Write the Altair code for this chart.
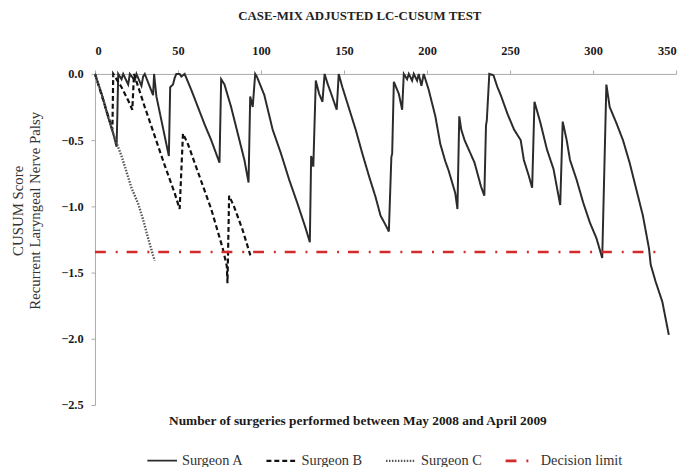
import altair as alt
import pandas as pd

# ---------------- data ----------------
a_x = [0, 4, 8, 11, 13, 13.5, 14, 16, 17, 20, 21, 24, 25, 28, 29, 30, 35, 35.6, 37, 44.5, 45.3, 47, 48, 49, 51, 52, 54,
       58, 62, 66, 70, 75, 76, 78, 82, 86, 90, 92.5, 93.5, 95, 96.5, 97.5, 102, 107, 112, 117, 122, 127, 129.4,
       130.2, 131.5, 133, 135, 137, 138.3, 140, 142, 145.6, 146.8, 149, 153, 157, 161, 165, 169, 172, 175, 177,
       178.5, 179, 180, 183, 185, 186, 188, 189, 191, 192, 194, 195, 196.6, 198, 201, 205, 208, 211, 213, 217,
       218.3, 219.4, 220.6, 222.6, 228.6, 232.5, 234.5, 235.5, 236, 237.5, 240, 242.4, 244.4, 248.4, 252.4, 256.4,
       258.3, 261.3, 263.3, 264.7, 268.3, 272.2, 276.2, 280.2, 281.7, 284.1, 286.1, 290.1, 294, 298, 302, 305.5,
       308, 310, 314, 318, 322, 326, 330, 333.7, 334.7, 337.7, 341.7, 345.6]
a_y = [0, -0.15, -0.33, -0.45, -0.55, -0.3, 0, -0.04, 0, -0.08, 0, -0.05, 0, -0.09, -0.02, 0, -0.16, 0, -0.17, -0.62, -0.1, -0.08, -0.03, 0, 0, -0.02, 0,
       -0.12, -0.25, -0.38, -0.5, -0.67, -0.04, -0.08, -0.25, -0.45, -0.65, -0.82, -0.17, -0.25, 0, -0.02, -0.16, -0.42, -0.6, -0.8, -0.98, -1.17, -1.27,
       -0.62, -0.7, -0.05, -0.15, -0.21, 0, -0.07, -0.14, -0.27, 0, -0.1, -0.26, -0.42, -0.6, -0.77, -0.93, -1.07, -1.14, -1.19,
       -0.63, -0.6, -0.06, -0.15, -0.27, 0, -0.04, 0, -0.05, 0, -0.05, 0, -0.09, 0, -0.12, -0.32, -0.53, -0.66, -0.73, -0.9,
       -1.02, -0.32, -0.42, -0.5, -0.67, -0.85, -0.92, -0.39, -0.35, 0, -0.01, -0.1, -0.16, -0.3, -0.42, -0.5,
       -0.65, -0.77, -0.86, -0.21, -0.37, -0.57, -0.72, -0.99, -0.36, -0.5, -0.65, -0.8, -0.97, -1.12, -1.24, -1.39,
       -0.08, -0.25, -0.37, -0.5, -0.67, -0.87, -1.07, -1.32, -1.44, -1.57, -1.72, -1.97]

b_x = [0, 4, 8, 10.5, 11, 12, 16, 20, 22.5, 23.5, 30, 36, 42, 48, 51, 53, 56, 62, 70, 77, 79.4, 79.8, 80.8, 83.7, 88.7, 93.6]
b_y = [0, -0.16, -0.32, -0.42, 0, -0.02, -0.1, -0.2, -0.27, 0, -0.25, -0.47, -0.69, -0.9, -1.02, -0.45, -0.53, -0.74, -1.02, -1.32, -1.45, -1.58, -0.92, -1.0, -1.17, -1.37]

c_x = [0, 4, 8, 11, 13, 16, 19, 22, 26, 29, 32, 35, 36]
c_y = [0, -0.15, -0.32, -0.45, -0.52, -0.62, -0.74, -0.86, -0.98, -1.1, -1.24, -1.37, -1.41]

limit_x = [0, 339]
limit_y = [-1.345, -1.345]

series_names = ["Surgeon A", "Surgeon B", "Surgeon C", "Decision limit"]
x_ticks = [0, 50, 100, 150, 200, 250, 300, 350]
y_ticks = [0.0, -0.5, -1.0, -1.5, -2.0, -2.5]

title_text = "CASE-MIX ADJUSTED LC-CUSUM TEST"
x_title = "Number of surgeries performed between May 2008 and April 2009"
y_title = ["CUSUM Score", "Recurrent Laryngeal Nerve Palsy"]

# ---------------- styling ----------------
colors = ["#2b2b2b", "#111111", "#555555", "#d42a2a"]
dashes = [[1, 0], [5, 3], [1.5, 1.5], [11, 10, 2, 9]]
widths = [2.0, 2.6, 1.3, 3.0]
SERIF = "Liberation Serif"

rows = []
for name, xs, ys in [("Surgeon A", a_x, a_y), ("Surgeon B", b_x, b_y), ("Surgeon C", c_x, c_y)]:
    for xv, yv in zip(xs, ys):
        rows.append({"x": xv, "y": yv, "series": name})
surg_df = pd.DataFrame(rows)
limit_df = pd.DataFrame({"x": limit_x, "y": limit_y, "series": "Decision limit"})

X = alt.X("x:Q", scale=alt.Scale(domain=[0, 350], nice=False, zero=False),
          axis=alt.Axis(orient="top", values=x_ticks, title=None, format="d",
                        tickSize=4, labelPadding=13))
Y = alt.Y("y:Q", scale=alt.Scale(domain=[-2.5, 0], nice=False, zero=False),
          axis=alt.Axis(values=y_ticks, format=".1f", title=y_title, tickSize=4, labelPadding=8,
                        titleAngle=-90, titleX=-78, titleY=138, titleAlign="center",
                        titleBaseline="middle", titleFont=SERIF, titleFontSize=15,
                        titleFontWeight="normal", titleLineHeight=17, titleColor="#333333"))
legend = alt.Legend(title=None, orient="none", direction="horizontal", legendX=52, legendY=375,
                    symbolType="stroke", symbolSize=900, labelFont=SERIF, labelFontSize=14.5,
                    labelColor="#333333", labelOffset=4, columnPadding=18)
C = alt.Color("series:N", scale=alt.Scale(domain=series_names, range=colors), legend=legend)
D = alt.StrokeDash("series:N", scale=alt.Scale(domain=series_names, range=dashes), legend=legend)
W = alt.StrokeWidth("series:N", scale=alt.Scale(domain=series_names, range=widths), legend=legend)

surg = alt.Chart(surg_df).mark_line(strokeJoin="miter", strokeCap="butt").encode(
    x=X, y=Y, color=C, strokeDash=D, strokeWidth=W, order="x:Q")
limit = alt.Chart(limit_df).mark_line(strokeCap="butt").encode(
    x=X, y=Y, color=C, strokeDash=D, strokeWidth=W)
xt = alt.Chart(pd.DataFrame({"t": [x_title]})).mark_text(
    font=SERIF, fontSize=13.5, fontWeight="bold", color="#1a1a1a").encode(
    x=alt.value(266), y=alt.value(351), text="t:N")

chart = alt.layer(surg, limit, xt).properties(
    width=588, height=335,
    autosize=alt.AutoSizeParams(type="none"),
    padding={"left": 88, "top": 64, "right": 9, "bottom": 60},
    title=alt.Title(title_text, font=SERIF, fontSize=13, fontWeight="bold", color="#222222",
                    anchor="middle", dx=-26, offset=22),
).configure_view(stroke=None).configure_axis(
    labelFont=SERIF, labelFontSize=12.5, labelFontWeight="bold", labelColor="#1a1a1a",
    domainColor="#aaaaaa", tickColor="#aaaaaa", grid=False,
)

chart.save("out.html", embed_options={"renderer": "svg", "actions": False})
